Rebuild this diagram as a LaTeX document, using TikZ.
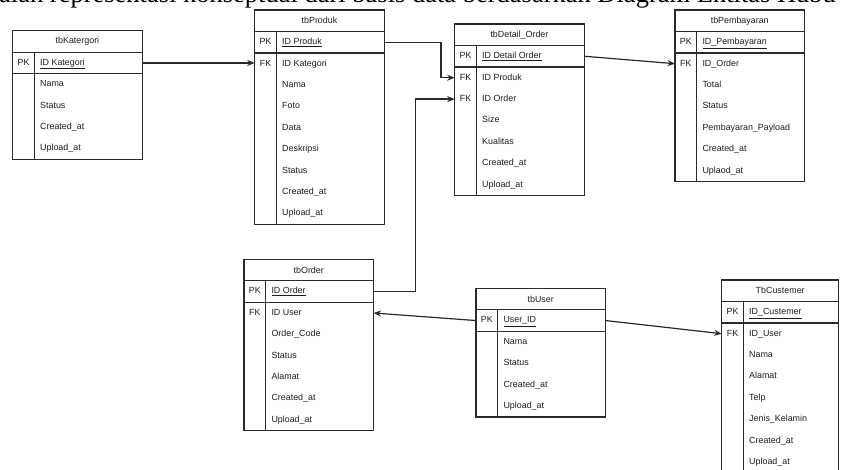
\documentclass[tikz,border=0pt]{standalone}
\usepackage{fontspec}
\setmainfont{Liberation Sans}
\newfontfamily\captionserif{Liberation Serif}
\usepackage{tikz}
\usetikzlibrary{arrows.meta, positioning, calc}
\definecolor{erdline}{HTML}{2A2A2A}
\definecolor{erdtext}{HTML}{1E1E1E}
\newcommand{\erdfont}{\fontsize{8.9pt}{10pt}\selectfont}

% #1 width, #2 name, #3 top left, #4 title, #5 key field, #6 rows, #7 fields
\newcommand{\erdtable}[7][129.5pt]{%
  \node[tbtitle, minimum width=#1] (#2) at (#3) {#4};
  \node[tbrow, minimum width=#1, below=0pt of #2] (#2-pk) {};
  \node[tbrow, minimum width=#1, minimum height=#6*21.4pt, below=0pt of #2-pk] (#2-body) {};
  \coordinate (#2-k) at ($(#2.south west)+(10.9,0)$);
  \coordinate (#2-d) at ($(#2.south west)+(21.8,0)$);
  \draw[tbline] (#2-d) -- (#2-d |- #2-body.south);
  \draw[tbline] (#2-pk.south west) -- (#2-pk.south east);
  \node[keytag] at (#2-k |- #2-pk) {PK};
  \node[fieldtxt] (#2-key) at ($(#2-d |- #2-pk)+(5.5,0)$) {\underline{#5}};
  \foreach \f [count=\i] in {#7}
    \node[fieldtxt] (#2-\i) at ($(#2-d |- #2-body.north)+(5.5,\i*21.4-10.7)$) {\f};
}

\begin{document}
\begin{tikzpicture}[x=1pt,y=-1pt,>={Stealth[length=7.5pt,width=6pt]},
    tbline/.style={draw=erdline, line width=1.2pt},
    tbrow/.style={tbline, minimum height=21.5pt, inner sep=0pt, outer sep=0pt},
    tbtitle/.style={tbrow, anchor=north west, font=\erdfont, text=erdtext},
    keytag/.style={font=\erdfont, text=erdtext, inner sep=0pt, text height=6.5pt, text depth=1.8pt},
    fieldtxt/.style={keytag, anchor=west},
    rel/.style={->, draw=erdline, line width=1.2pt}]

  \useasboundingbox[fill=white] (0,0) rectangle (841,470);
  \clip (0,0) rectangle (841,470);

  \node[anchor=base west, inner sep=0pt, font=\captionserif\fontsize{26.5pt}{28pt}\selectfont] (caption) at (-1,2.8)
    {alah representasi konseptual dari basis data berdasarkan Diagram Entitas Hubu};

  % tables
  \erdtable{kat}{12.7,30.7}{tbKatergori}{ID Kategori}{4}{Nama,Status,Created\_at,Upload\_at}
  \erdtable{prod}{254.7,10}{tbProduk}{ID Produk}{8}{ID Kategori,Nama,Foto,Data,Deskripsi,Status,Created\_at,Upload\_at}
  \erdtable{det}{454.7,24}{tbDetail\_Order}{ID Detail Order}{6}{ID Produk,ID Order,Size,Kualitas,Created\_at,Upload\_at}
  \erdtable{pay}{675,10}{tbPembayaran}{ID\_Pembayaran}{6}{ID\_Order,Total,Status,Pembayaran\_Payload,Created\_at,Uplaod\_at}
  \erdtable{ord}{244,259.3}{tbOrder}{ID Order}{6}{ID User,Order\_Code,Status,Alamat,Created\_at,Upload\_at}
  \erdtable{usr}{476,288.3}{tbUser}{User\_ID}{4}{Nama,Status,Created\_at,Upload\_at}
  \erdtable[117pt]{cus}{721.7,280}{TbCustemer}{ID\_Custemer}{7}{ID\_User,Nama,Alamat,Telp,Jenis\_Kelamin,Created\_at,Upload\_at}

  % foreign keys
  \foreach \r/\t in {prod-1/prod, det-1/det, det-2/det, pay-1/pay, ord-1/ord, cus-1/cus}
    \node[keytag] at (\t-k |- \r) {FK};

  % relations
  \draw[rel] (kat-pk.east) -- (kat-pk.east -| prod.west);
  \draw[rel] (prod-pk.east) -- ++(56.7,0) |- (det-1 -| det.west);
  \draw[rel] (ord-pk.east) -- ++(41.7,0) |- (det-2 -| det.west);
  \draw[rel] (det-pk.east) -- (pay-1 -| pay.west);
  \draw[rel] (usr-pk.west) -- (ord-1 -| ord.east);
  \draw[rel] (usr-pk.east) -- (cus-1 -| cus.west);
\end{tikzpicture}
\end{document}
